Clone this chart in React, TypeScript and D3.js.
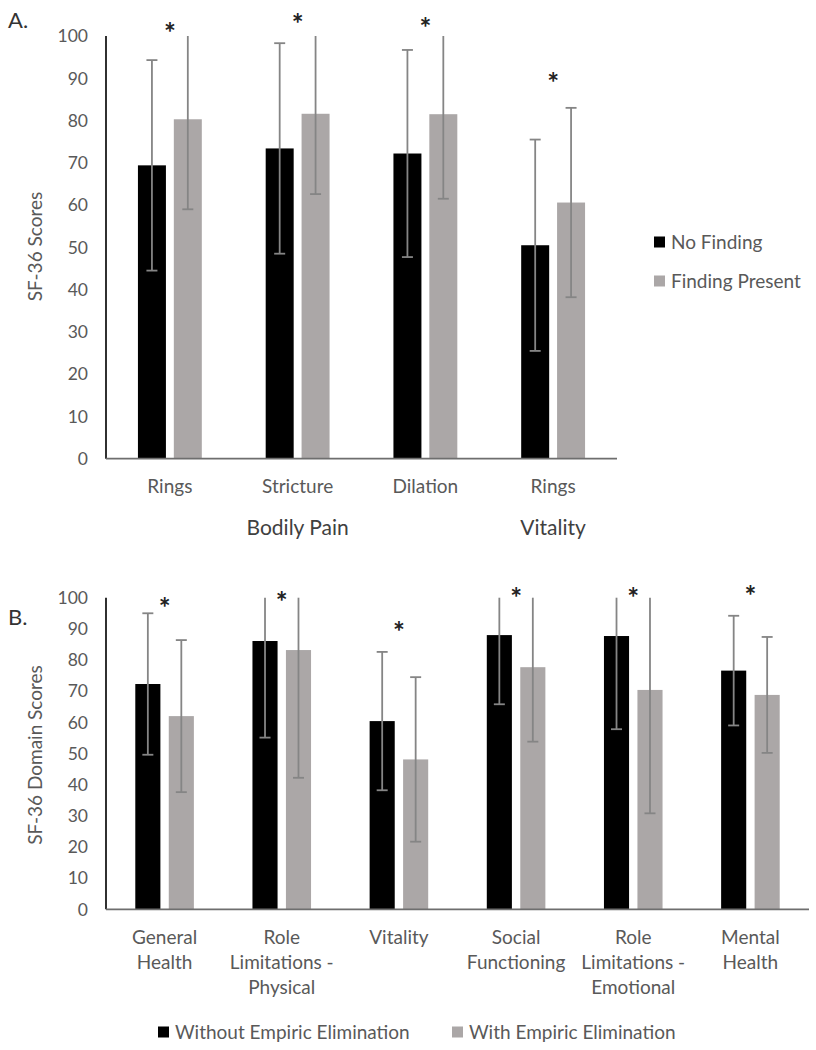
import React from "react";
import * as d3 from "d3";

// ---------- Panel A data ----------
const catsA = ["Rings", "Stricture", "Dilation", "Rings"];
const groupsA = [
  { label: "Bodily Pain", from: 0, to: 2 },
  { label: "Vitality", from: 3, to: 3 },
];
const seriesA = ["No Finding", "Finding Present"];
const noFindingA = [69.4, 73.4, 72.2, 50.5];
const noFindingErrA = [24.9, 24.9, 24.5, 25.0];
const findingA = [80.3, 81.6, 81.5, 60.6];
const findingErrA = [21.3, 19.0, 20.0, 22.4];
const starsA = [102, 104, 103, 90];

// ---------- Panel B data ----------
const catsB = [
  "General\nHealth",
  "Role\nLimitations -\nPhysical",
  "Vitality",
  "Social\nFunctioning",
  "Role\nLimitations -\nEmotional",
  "Mental\nHealth",
];
const seriesB = ["Without Empiric Elimination", "With Empiric Elimination"];
const withoutB = [72.3, 86.1, 60.4, 88.0, 87.7, 76.6];
const withoutErrB = [22.7, 31.0, 22.2, 22.2, 29.9, 17.6];
const withB = [62.0, 83.2, 48.1, 77.7, 70.4, 68.8];
const withErrB = [24.4, 41.0, 26.4, 23.9, 39.6, 18.6];
const starsB = [98.2, 100.1, 90.7, 101.4, 101.4, 102.2];

const yTicks = [0, 10, 20, 30, 40, 50, 60, 70, 80, 90, 100];

const FONT = "Lato, 'Open Sans', sans-serif";
const TXT = "#595959";
const BLACK = "#000000";
const GRAY = "#aba7a7";
const ERR = "#858585";
const COLORS = [BLACK, GRAY];
const LABEL_FS = 19;

type PanelProps = {
  cats: string[];
  vals: number[][];
  errs: number[][];
  stars: number[];
  x0: number;
  x1: number;
  yTop: number;
  yBottom: number;
  innerPad: number;
  labelY: number;
};

function Panel({ cats, vals, errs, stars, x0, x1, yTop, yBottom, innerPad, labelY }: PanelProps) {
  const idx = cats.map((_, i) => String(i));
  const x = d3.scaleBand<string>().domain(idx).range([x0, x1]).paddingInner(0.5).paddingOuter(0.25);
  const xs = d3
    .scaleBand<string>()
    .domain(["0", "1"])
    .range([0, x.bandwidth()])
    .paddingInner(innerPad);
  const y = d3.scaleLinear().domain([0, 100]).range([yBottom, yTop]);
  const capW = 11;

  return (
    <g>
      {/* bars */}
      {vals.map((series, s) =>
        series.map((v, i) => (
          <rect
            key={`b${s}-${i}`}
            x={(x(String(i)) as number) + (xs(String(s)) as number)}
            y={y(v)}
            width={xs.bandwidth()}
            height={y(0) - y(v)}
            fill={COLORS[s]}
          />
        ))
      )}
      {/* error bars */}
      {vals.map((series, s) =>
        series.map((v, i) => {
          const cx = (x(String(i)) as number) + (xs(String(s)) as number) + xs.bandwidth() / 2;
          const hiV = v + errs[s][i];
          const loV = v - errs[s][i];
          const hi = y(Math.min(100, hiV));
          const lo = y(Math.max(0, loV));
          return (
            <g key={`e${s}-${i}`} stroke={ERR} strokeWidth={1.8}>
              <line x1={cx} x2={cx} y1={hi} y2={lo} />
              {hiV <= 100 && <line x1={cx - capW / 2} x2={cx + capW / 2} y1={hi} y2={hi} />}
              {loV >= 0 && <line x1={cx - capW / 2} x2={cx + capW / 2} y1={lo} y2={lo} />}
            </g>
          );
        })
      )}
      {/* axes */}
      <line x1={x0} x2={x0} y1={y(100)} y2={y(0)} stroke="#1a1a1a" strokeWidth={1.8} />
      <line x1={x0} x2={x1} y1={y(0)} y2={y(0)} stroke="#6e6e6e" strokeWidth={1.8} />
      {yTicks.map((t) => (
        <text
          key={`t${t}`}
          x={88}
          y={y(t)}
          dy="0.36em"
          textAnchor="end"
          fontFamily={FONT}
          fontSize={17.5}
          fill={TXT}
        >
          {t}
        </text>
      ))}
      {/* category labels */}
      {cats.map((c, i) => {
        const cx = (x(String(i)) as number) + x.bandwidth() / 2;
        return (
          <text key={`c${i}`} x={cx} y={labelY} textAnchor="middle" fontFamily={FONT} fontSize={LABEL_FS} fill={TXT}>
            {c.split("\n").map((line, k) => (
              <tspan key={k} x={cx} dy={k === 0 ? "0.36em" : 25}>
                {line}
              </tspan>
            ))}
          </text>
        );
      })}
      {/* significance stars */}
      {stars.map((sv, i) => (
        <text
          key={`s${i}`}
          x={(x(String(i)) as number) + x.bandwidth() / 2}
          y={y(sv) + 15}
          textAnchor="middle"
          fontFamily={FONT}
          fontSize={28}
          fontWeight={700}
          fill="#222"
        >
          *
        </text>
      ))}
    </g>
  );
}

export default function App() {
  const xA = d3.scaleBand<string>().domain(catsA.map((_, i) => String(i))).range([106, 617]).paddingInner(0.5).paddingOuter(0.25);
  return (
    <div style={{ position: "absolute", left: 0, top: 0 }}>
      <svg width={816} height={1050} style={{ display: "block", background: "#fff" }}>
        {/* Panel A */}
        <text x={8} y={20} dy="0.36em" fontFamily={FONT} fontSize={22} fill="#333">
          A.
        </text>
        <Panel
          cats={catsA}
          vals={[noFindingA, findingA]}
          errs={[noFindingErrA, findingErrA]}
          stars={starsA}
          x0={106}
          x1={617}
          yTop={36}
          yBottom={458.7}
          innerPad={0.22}
          labelY={486}
        />
        {groupsA.map((g) => {
          const cx = ((xA(String(g.from)) as number) + (xA(String(g.to)) as number) + xA.bandwidth()) / 2;
          return (
            <text key={g.label} x={cx} y={527} dy="0.36em" textAnchor="middle" fontFamily={FONT} fontSize={21} fill="#404040">
              {g.label}
            </text>
          );
        })}
        <text
          transform="translate(35,246.5) rotate(-90)"
          dy="0.36em"
          textAnchor="middle"
          fontFamily={FONT}
          fontSize={LABEL_FS}
          fill={TXT}
        >
          SF-36 Scores
        </text>
        {seriesA.map((s, i) => (
          <g key={s}>
            <rect x={654} y={242 + i * 39 - 5.5} width={11} height={11} fill={COLORS[i]} />
            <text x={671} y={242 + i * 39} dy="0.36em" fontFamily={FONT} fontSize={LABEL_FS} fill={TXT}>
              {s}
            </text>
          </g>
        ))}

        {/* Panel B */}
        <text x={8} y={617} dy="0.36em" fontFamily={FONT} fontSize={22} fill="#333">
          B.
        </text>
        <Panel
          cats={catsB}
          vals={[withoutB, withB]}
          errs={[withoutErrB, withErrB]}
          stars={starsB}
          x0={106}
          x1={809}
          yTop={597.7}
          yBottom={909.3}
          innerPad={0.25}
          labelY={936.7}
        />
        <text
          transform="translate(35,755) rotate(-90)"
          dy="0.36em"
          textAnchor="middle"
          fontFamily={FONT}
          fontSize={LABEL_FS}
          fill={TXT}
        >
          SF-36 Domain Scores
        </text>
        {seriesB.map((s, i) => {
          const lx = [158, 452][i];
          return (
            <g key={s}>
              <rect x={lx} y={1032 - 5.5} width={11} height={11} fill={COLORS[i]} />
              <text x={lx + 17} y={1032} dy="0.36em" fontFamily={FONT} fontSize={LABEL_FS} fill={TXT}>
                {s}
              </text>
            </g>
          );
        })}
      </svg>
    </div>
  );
}
